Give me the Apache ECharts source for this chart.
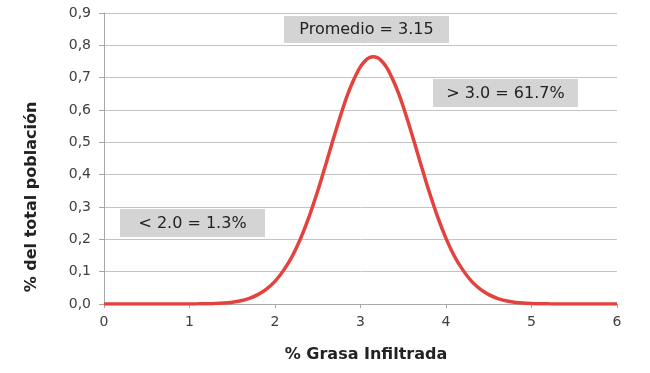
<!DOCTYPE html>
<html>
<head>
<meta charset="utf-8">
<script src="https://cdn.jsdelivr.net/npm/echarts@6/dist/echarts.min.js"></script>
<style>html,body{margin:0;padding:0;background:#fff}#c{width:650px;height:373px}</style>
</head>
<body>
<div id="c"></div>
<script>
var xValues = [0,0.1,0.2,0.3,0.4,0.5,0.6,0.7,0.8,0.9,
  1.0,1.1,1.2,1.3,1.4,1.5,1.6,1.7,1.8,1.9,
  2.0,2.1,2.2,2.3,2.4,2.5,
  2.55,2.6,2.65,2.7,2.75,2.8,2.85,2.9,2.95,3.0,3.05,3.1,3.15,
  3.2,3.25,3.3,3.35,3.4,3.45,3.5,3.55,3.6,3.65,3.7,3.75,3.8,
  3.9,4.0,4.1,4.2,4.3,4.4,4.5,4.6,4.7,4.8,4.9,
  5.0,5.1,5.2,5.3,5.4,5.5,5.6,5.7,5.8,5.9,6.0];
var yValues = [0,0,0,0,0,0,0,0,0,0,
  0.0002,0.0004,0.0008,0.0016,0.003,0.0057,0.0102,0.0175,0.029,0.046,
  0.070,0.104,0.147,0.203,0.271,0.350,
  0.393,0.437,0.482,0.526,0.569,0.610,0.648,0.681,0.710,0.734,0.751,0.7615,0.765,
  0.7615,0.751,0.734,0.710,0.681,0.648,0.610,0.569,0.526,0.482,0.437,0.393,0.350,
  0.271,0.203,0.147,0.104,0.070,0.046,0.029,0.0175,0.0102,0.0057,0.003,
  0.0016,0.0008,0.0004,0.0002,0,0,0,0,0,0,0];
var xTicks = [0,1,2,3,4,5,6];
var yTickLabels = ['0,0','0,1','0,2','0,3','0,4','0,5','0,6','0,7','0,8','0,9'];
var yTitle = '% del total población';
var xTitle = '% Grasa Infiltrada';
var notes = ['Promedio = 3.15', '> 3.0 = 61.7%', '< 2.0 = 1.3%'];

var font = 'DejaVu Sans';
var chart = echarts.init(document.getElementById('c'));
var data = xValues.map(function(x, i){ return [x, yValues[i]]; });

function box(x, y, w, h, txt){
  return [
    {type:'rect', shape:{x:x, y:y, width:w, height:h}, style:{fill:'#d4d4d4'}, z:10},
    {type:'text', x:x + w/2, y:y + h/2 + 0.5, style:{text:txt, fill:'#222', font:'16px "' + font + '"', textAlign:'center', textVerticalAlign:'middle'}, z:11}
  ];
}

chart.setOption({
  animation:false,
  grid:{left:104, right:33, top:13, bottom:69},
  xAxis:{
    type:'value', min:0, max:6, interval:1,
    axisLine:{show:true, lineStyle:{color:'#a8a8a8', width:1}},
    axisTick:{show:true, length:4, lineStyle:{color:'#a8a8a8'}},
    axisLabel:{color:'#404040', fontFamily:font, fontSize:14, margin:11,
      formatter:function(v){ return xTicks.indexOf(v) >= 0 ? String(v) : ''; }},
    splitLine:{show:false}
  },
  yAxis:{
    type:'value', min:0, max:0.9, interval:0.1,
    axisLine:{show:true, lineStyle:{color:'#a8a8a8', width:1}},
    axisTick:{show:true, length:5, lineStyle:{color:'#a8a8a8'}},
    axisLabel:{color:'#404040', fontFamily:font, fontSize:14, margin:13,
      formatter:function(v){ return yTickLabels[Math.round(v*10)]; }},
    splitLine:{show:true, lineStyle:{color:'#c4c4c4', width:1}}
  },
  series:[{
    type:'line', data:data, smooth:0.3, showSymbol:false, symbol:'none',
    lineStyle:{color:'#e3423d', width:3.5}, z:5
  }],
  graphic:[].concat(
    box(284, 16, 165, 27, notes[0]),
    box(433, 79, 145, 28, notes[1]),
    box(120, 209, 145, 28, notes[2]),
    [
      {type:'text', x:32, y:197, rotation:Math.PI/2,
        style:{text:yTitle, fill:'#222', font:'bold 16px "' + font + '"', textAlign:'center', textVerticalAlign:'middle'}},
      {type:'text', x:366, y:355,
        style:{text:xTitle, fill:'#222', font:'bold 16px "' + font + '"', textAlign:'center', textVerticalAlign:'middle'}}
    ]
  )
});
</script>
</body>
</html>
